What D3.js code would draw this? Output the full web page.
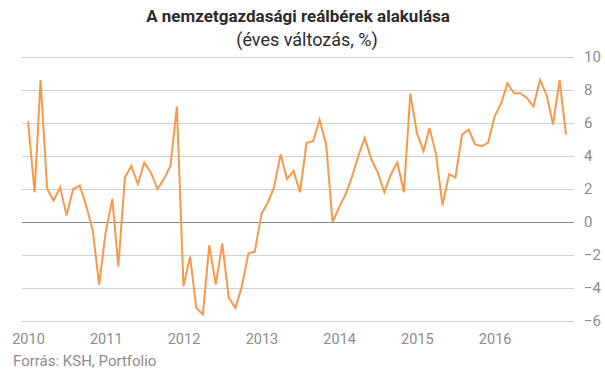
<!DOCTYPE html>
<html>
<head>
<meta charset="utf-8">
<script src="https://cdn.jsdelivr.net/npm/d3@7"></script>
<style>
  html, body { margin: 0; padding: 0; background: #fff; }
  svg { display: block; font-family: Roboto, "Noto Sans", sans-serif; }
</style>
</head>
<body>
<div id="chart"></div>
<script>
// havi adatok, 2010. január – 2016. december
const startYear = 2010;
const values = [
  6.1, 1.8, 8.6, 2.0, 1.3, 2.1, 0.4, 2.0, 2.2, 1.0, -0.5, -3.8,
  -0.6, 1.4, -2.7, 2.7, 3.4, 2.3, 3.6, 3.0, 2.0, 2.6, 3.4, 7.0,
  -3.9, -2.1, -5.2, -5.6, -1.4, -3.8, -1.3, -4.6, -5.2, -3.9, -1.9, -1.8,
  0.5, 1.2, 2.1, 4.1, 2.6, 3.1, 1.8, 4.8, 4.9, 6.2, 4.7, 0.0,
  0.9, 1.7, 2.7, 4.0, 5.1, 3.8, 3.0, 1.8, 2.9, 3.6, 1.8, 7.8,
  5.4, 4.3, 5.7, 4.1, 1.0, 2.9, 2.7, 5.3, 5.6, 4.7, 4.6, 4.8,
  6.4, 7.2, 8.4, 7.8, 7.8, 7.5, 7.0, 8.6, 7.7, 5.9, 8.6, 5.3
];
const yearLabels = [2010, 2011, 2012, 2013, 2014, 2015, 2016];
const yTicks = [-6, -4, -2, 0, 2, 4, 6, 8, 10];

const width = 605, height = 378;
const data = values.map((v, i) => ({ date: new Date(startYear, i, 1), value: v }));

const x = d3.scaleTime()
  .domain([new Date(startYear, 0, 1), new Date(startYear, values.length - 1, 1)])
  .range([28, 566]);
const y = d3.scaleLinear().domain([-6, 10]).range([321, 57]);

const svg = d3.select("#chart").append("svg")
  .attr("width", width)
  .attr("height", height);

svg.append("text")
  .attr("x", 298).attr("y", 22)
  .attr("text-anchor", "middle")
  .attr("font-size", "17px")
  .attr("font-weight", "700")
  .attr("fill", "#2b2b2b")
  .text("A nemzetgazdasági reálbérek  alakulása");
svg.append("text")
  .attr("x", 307).attr("y", 46)
  .attr("text-anchor", "middle")
  .attr("font-size", "18px")
  .attr("fill", "#2b2b2b")
  .text("(éves változás, %)");

// rácsvonalak
svg.append("g")
  .selectAll("line")
  .data(yTicks)
  .join("line")
  .attr("x1", 22).attr("x2", 574)
  .attr("y1", d => y(d)).attr("y2", d => y(d))
  .attr("stroke", d => d === 0 ? "#8a8a8a" : "#d0d0d0")
  .attr("stroke-width", 1)
  .attr("shape-rendering", "crispEdges");

const yAxis = d3.axisRight(y).tickValues(yTicks).tickSize(0).tickPadding(0);
svg.append("g")
  .attr("transform", "translate(584,0)")
  .call(yAxis)
  .call(g => g.select(".domain").remove())
  .call(g => g.selectAll("text")
    .attr("fill", "#8c8c8c")
    .attr("font-size", "15px")
    .attr("font-family", "Roboto, sans-serif"));

const xAxis = d3.axisBottom(x)
  .tickValues(yearLabels.map(yr => new Date(yr, 0, 1)))
  .tickFormat(d3.timeFormat("%Y"))
  .tickSize(0).tickPadding(0);
svg.append("g")
  .attr("transform", "translate(0,334)")
  .call(xAxis)
  .call(g => g.select(".domain").remove())
  .call(g => g.selectAll("text")
    .attr("fill", "#8c8c8c")
    .attr("font-size", "14.5px")
    .attr("font-family", "Roboto, sans-serif"));

const line = d3.line().x(d => x(d.date)).y(d => y(d.value));
svg.append("path")
  .datum(data)
  .attr("d", line)
  .attr("fill", "none")
  .attr("stroke", "#f7994a")
  .attr("stroke-width", 2)
  .attr("stroke-linejoin", "miter");

svg.append("text")
  .attr("x", 13).attr("y", 366)
  .attr("font-size", "15px")
  .attr("fill", "#8c8c8c")
  .text("Forrás: KSH, Portfolio");
</script>
</body>
</html>
